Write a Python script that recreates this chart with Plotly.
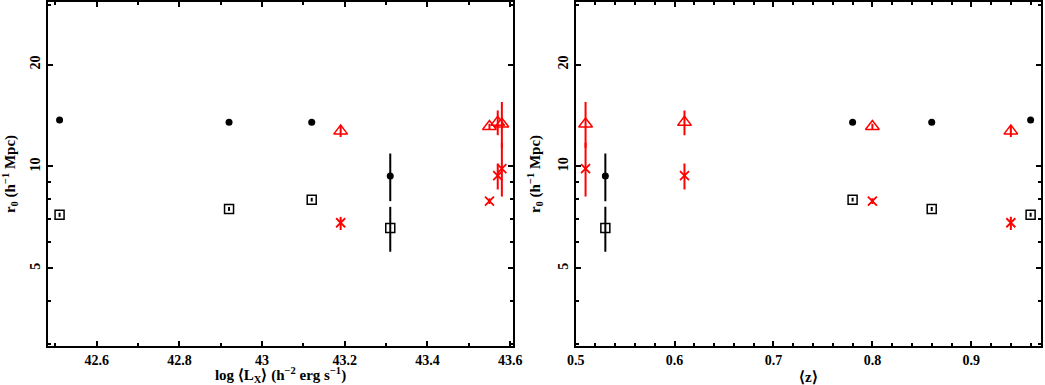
import plotly.graph_objects as go
import numpy as np

# ---- data: left panel (x = log <Lx>) ----
lx_black = [42.51, 42.92, 43.12, 43.31]
r0_circ_lx = [13.72, 13.51, 13.51, 9.38]
r0_circ_lx_up = [0.0, 0.0, 0.0, 1.54]
r0_circ_lx_dn = [0.0, 0.0, 0.0, 1.48]
r0_sq_lx = [7.20, 7.49, 7.98, 6.58]
r0_sq_lx_up = [0.1, 0.1, 0.1, 1.02]
r0_sq_lx_dn = [0.1, 0.1, 0.1, 0.98]

lx_red = [43.19, 43.55, 43.57, 43.58]
r0_tri_lx = [12.72, 13.12, 13.50, 13.35]
r0_tri_lx_up = [0.5, 0.25, 1.14, 2.15]
r0_tri_lx_dn = [0.5, 0.25, 1.13, 2.0]
r0_x_lx = [6.82, 7.90, 9.40, 9.85]
r0_x_lx_up = [0.28, 0.15, 0.8, 1.9]
r0_x_lx_dn = [0.33, 0.15, 0.85, 1.7]

# ---- data: right panel (x = <z>) ----
z_black = [0.96, 0.86, 0.78, 0.53]
r0_circ_z = [13.72, 13.51, 13.51, 9.38]
r0_circ_z_up = [0.0, 0.0, 0.0, 1.54]
r0_circ_z_dn = [0.0, 0.0, 0.0, 1.48]
r0_sq_z = [7.20, 7.49, 7.98, 6.58]
r0_sq_z_up = [0.1, 0.1, 0.1, 1.02]
r0_sq_z_dn = [0.1, 0.1, 0.1, 0.98]

z_red = [0.94, 0.80, 0.61, 0.51]
r0_tri_z = [12.72, 13.12, 13.50, 13.35]
r0_tri_z_up = [0.5, 0.25, 1.14, 2.15]
r0_tri_z_dn = [0.5, 0.25, 1.13, 2.0]
r0_x_z = [6.82, 7.90, 9.40, 9.85]
r0_x_z_up = [0.28, 0.15, 0.8, 1.9]
r0_x_z_dn = [0.33, 0.15, 0.85, 1.7]

y_major = [5, 10, 20]
y_minor = [3, 4, 6, 7, 8, 9, 30]
lx_ticks = [42.6, 42.8, 43.0, 43.2, 43.4, 43.6]
lx_labels = ["42.6", "42.8", "43", "43.2", "43.4", "43.6"]
z_ticks = [0.5, 0.6, 0.7, 0.8, 0.9]
z_labels = ["0.5", "0.6", "0.7", "0.8", "0.9"]

FONT = "Liberation Serif"
RED = "#ff0000"
BLK = "#000000"

fig = go.Figure()

def add(x, y, up, dn, color, symbol, size, lw, xa, ya):
    fig.add_trace(go.Scatter(
        x=x, y=y, mode="markers", xaxis=xa, yaxis=ya,
        marker=dict(symbol=symbol, size=size, color=color,
                    line=dict(color=color, width=lw)),
        error_y=dict(type="data", symmetric=False, array=up, arrayminus=dn,
                     color=color, thickness=2, width=0),
        showlegend=False))

for xa, ya, xb, xr, data in [
    ("x", "y", lx_black, lx_red,
     (r0_circ_lx, r0_circ_lx_up, r0_circ_lx_dn, r0_sq_lx, r0_sq_lx_up, r0_sq_lx_dn,
      r0_tri_lx, r0_tri_lx_up, r0_tri_lx_dn, r0_x_lx, r0_x_lx_up, r0_x_lx_dn)),
    ("x2", "y2", z_black, z_red,
     (r0_circ_z, r0_circ_z_up, r0_circ_z_dn, r0_sq_z, r0_sq_z_up, r0_sq_z_dn,
      r0_tri_z, r0_tri_z_up, r0_tri_z_dn, r0_x_z, r0_x_z_up, r0_x_z_dn)),
]:
    c, cu, cd, s, su, sd, t, tu, td, k, ku, kd = data
    add(xb, s, su, sd, BLK, "square-open", 9, 1.5, xa, ya)
    add(xb, c, cu, cd, BLK, "circle", 7, 0, xa, ya)
    add(xr, t, tu, td, RED, "triangle-up-open", 12, 1.5, xa, ya)
    add(xr, k, ku, kd, RED, "x-thin-open", 9, 1.8, xa, ya)

tickfont = dict(family=FONT, size=14, color="black")
titlefont = dict(family=FONT, size=15, color="black")
ytitle = "<b>r<sub>0</sub> (h<sup>−1</sup> Mpc)</b>"

common_x = dict(showline=True, linewidth=2, linecolor="black", mirror="allticks",
                ticks="inside", ticklen=5, tickwidth=1.5, tickcolor="black",
                showgrid=False, zeroline=False, tickfont=tickfont, automargin=False)
common_y = dict(type="log", range=[np.log10(2.95), np.log10(30.6)],
                showline=True, linewidth=2, linecolor="black", mirror="allticks",
                ticks="inside", ticklen=5, tickwidth=1.5, tickcolor="black",
                tickvals=y_major, ticktext=[f"<b>{v}</b>" for v in y_major],
                tickangle=-90,
                minor=dict(tickvals=y_minor, ticks="inside", ticklen=3,
                           tickwidth=1.5, tickcolor="black"),
                showgrid=False, zeroline=False, tickfont=tickfont)

fig.update_layout(
    width=1045, height=385,
    margin=dict(l=48, r=4, t=2, b=39),
    paper_bgcolor="white", plot_bgcolor="white",
    xaxis=dict(domain=[0, 0.4683], range=[42.482, 43.607],
               tickvals=lx_ticks, ticktext=[f"<b>{t}</b>" for t in lx_labels],
               minor=dict(dtick=0.1, tick0=42.5, ticks="inside", ticklen=3,
                          tickwidth=1.5, tickcolor="black"),
               title=dict(text="<b>log ⟨L<sub>X</sub>⟩ (h<sup>−2</sup> erg s<sup>−1</sup>)</b>",
                          font=titlefont, standoff=5),
               anchor="y", **common_x),
    yaxis=dict(domain=[0, 1], anchor="x",
               title=dict(text=ytitle, font=titlefont, standoff=12),
               **common_y),
    xaxis2=dict(domain=[0.5314, 1], range=[0.5, 0.9705],
                tickvals=z_ticks, ticktext=[f"<b>{t}</b>" for t in z_labels],
                minor=dict(dtick=0.02, tick0=0.5, ticks="inside", ticklen=3,
                           tickwidth=1.5, tickcolor="black"),
                title=dict(text="<b>⟨z⟩</b>", font=titlefont, standoff=5),
                anchor="y2", **common_x),
    yaxis2=dict(domain=[0, 1], anchor="x2",
                title=dict(text=ytitle, font=titlefont, standoff=12),
                **common_y),
)

fig.write_html("out.html", config={"displayModeBar": False},
               post_script="document.body.style.margin='0';document.body.style.overflow='hidden';")
